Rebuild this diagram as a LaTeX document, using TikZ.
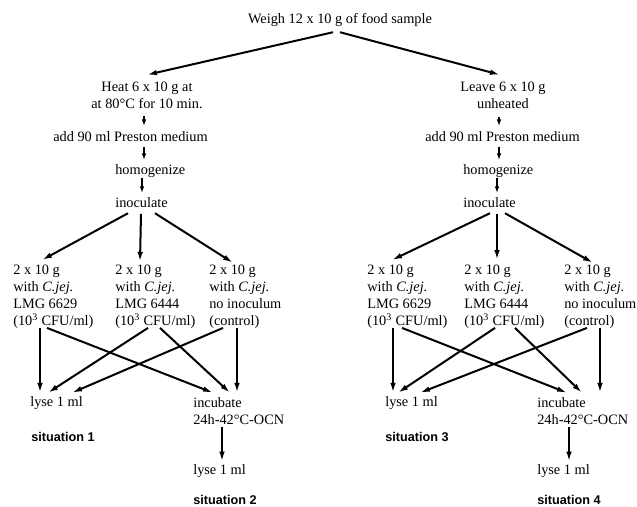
\documentclass[tikz,border=0pt]{standalone}
\usepackage{fontspec}
\setmainfont{Liberation Serif}
\newfontfamily\sitfont{Liberation Sans}
\usetikzlibrary{arrows.meta,calc}
\begin{document}
\begin{tikzpicture}[x=0.75pt,y=-0.75pt,
    txt/.style={inner sep=0pt,anchor=west,font=\fontsize{10.75}{12.75}\selectfont,text height=8pt,text depth=2pt},
    ctr/.style={inner sep=0pt,anchor=north,align=center,font=\fontsize{10.75}{12.75}\selectfont},
    blk/.style={inner sep=0pt,anchor=north west,align=left,font=\fontsize{10.75}{12.75}\selectfont},
    sit/.style={inner sep=0pt,anchor=west,font=\sitfont\bfseries\fontsize{9.5}{11}\selectfont},
    arr/.style={-{Latex[length=7.5pt,width=4.2pt]},line width=1.5pt},
    sarr/.style={-{Latex[length=5pt,width=3.5pt]},line width=1pt}]
\useasboundingbox (0,0) rectangle (637,507);
\node[txt,anchor=center] (title) at (340,19) {Weigh 12 x 10 g of food sample};
\node[ctr] (heat) at (147,81.8) {Heat 6 x 10 g at\\ at 80°C for 10 min.};
\node[ctr] (leave) at (503,81.8) {Leave 6 x 10 g\\unheated};
\node[txt] (addL) at (53,137) {add 90 ml Preston medium};
\node[txt] (homL) at (115,170) {homogenize};
\node[txt] (inoL) at (115,203) {inoculate};
\node[txt] (addR) at (425,137) {add 90 ml Preston medium};
\node[txt] (homR) at (463,170) {homogenize};
\node[txt] (inoR) at (463,203) {inoculate};
\node[blk] (blkL1) at (13,264.8) {2 x 10 g\\with \textit{C.jej.}\\LMG 6629\\(10\textsuperscript{3} CFU/ml)};
\node[blk] (blkL2) at (115,264.8) {2 x 10 g\\with \textit{C.jej.}\\LMG 6444\\(10\textsuperscript{3} CFU/ml)};
\node[blk] (blkL3) at (209,264.8) {2 x 10 g\\with \textit{C.jej.}\\no inoculum\\(control)};
\node[blk] (blkR1) at (367,264.8) {2 x 10 g\\with \textit{C.jej.}\\LMG 6629\\(10\textsuperscript{3} CFU/ml)};
\node[blk] (blkR2) at (464,264.8) {2 x 10 g\\with \textit{C.jej.}\\LMG 6444\\(10\textsuperscript{3} CFU/ml)};
\node[blk] (blkR3) at (564,264.8) {2 x 10 g\\with \textit{C.jej.}\\no inoculum\\(control)};
\node[txt] (lyseL) at (30,402) {lyse 1 ml};
\node[blk] (incL) at (193,396.8) {incubate\\24h-42°C-OCN};
\node[txt] (lyse2L) at (193,470) {lyse 1 ml};
\node[sit] (sit1) at (31,437) {situation 1};
\node[sit] (sit2) at (193,500) {situation 2};
\node[txt] (lyseR) at (385,402) {lyse 1 ml};
\node[blk] (incR) at (537,396.8) {incubate\\24h-42°C-OCN};
\node[txt] (lyse2R) at (537,470) {lyse 1 ml};
\node[sit] (sit3) at (385,437) {situation 3};
\node[sit] (sit4) at (537,500) {situation 4};
\draw[arr] ($(title.south)+(-7,6.3)$) -- ($(heat.north)+(0,-7)$);
\draw[arr] ($(title.south)+(0,6.3)$) -- ($(leave.north)+(-3,-7)$);
\draw[sarr] ($(heat.south)+(-3,6.5)$) -- ($(addL.north west)+(91,-4)$);
\draw[sarr] ($(addL.south west)+(91,3)$) -- ($(homL.north west)+(29,-3)$);
\draw[sarr] ($(homL.south west)+(27,1.5)$) -- ($(inoL.north west)+(27,-3)$);
\draw[sarr] ($(leave.south)+(-4,7.5)$) -- ($(addR.north west)+(74,-4)$);
\draw[sarr] ($(addR.south west)+(74,3)$) -- ($(homR.north west)+(36,-3)$);
\draw[sarr] ($(homR.south west)+(34,1.5)$) -- ($(inoR.north west)+(34,-3)$);
\draw[arr] ($(inoL.south west)+(13,3.3)$) -- ($(blkL1.north west)+(29,-4.8)$);
\draw[arr] ($(inoL.south west)+(26,4)$) -- ($(blkL2.north west)+(25,-3)$);
\draw[arr] ($(inoL.south west)+(40,3.3)$) -- ($(blkL3.north west)+(24,-2)$);
\draw[arr] ($(inoR.south west)+(27,3.3)$) -- ($(blkR1.north west)+(25,-4.8)$);
\draw[arr] ($(inoR.south west)+(34,4)$) -- ($(blkR2.north west)+(33,-4.8)$);
\draw[arr] ($(inoR.south west)+(42,3.3)$) -- ($(blkR3.north west)+(29,-2)$);
\draw[arr] ($(blkL1.south west)+(27,-1)$) -- ($(lyseL.north west)+(10,-2.3)$);
\draw[arr] ($(blkL1.south west)+(34,-1)$) -- ($(incL.north west)+(20,-4)$);
\draw[arr] ($(blkL2.south west)+(33,-1)$) -- ($(lyseL.north west)+(18,-2.3)$);
\draw[arr] ($(blkL2.south west)+(45,-1)$) -- ($(incL.north west)+(37,-4)$);
\draw[arr] ($(blkL3.south west)+(14,-1)$) -- ($(lyseL.north west)+(42,-2.3)$);
\draw[arr] ($(blkL3.south west)+(28,-1)$) -- ($(incL.north west)+(44,-4)$);
\draw[arr] ($(blkR1.south west)+(26,-1)$) -- ($(lyseR.north west)+(8,-2.3)$);
\draw[arr] ($(blkR1.south west)+(35,-1)$) -- ($(incR.north west)+(30,-4)$);
\draw[arr] ($(blkR2.south west)+(31,-1)$) -- ($(lyseR.north west)+(13,-2.3)$);
\draw[arr] ($(blkR2.south west)+(51,-1)$) -- ($(incR.north west)+(45,-4)$);
\draw[arr] ($(blkR3.south west)+(23,-1)$) -- ($(lyseR.north west)+(35,-2.3)$);
\draw[arr] ($(blkR3.south west)+(36,-1)$) -- ($(incR.north west)+(63,-4)$);
\draw[arr] ($(incL.south west)+(29,2.5)$) -- ($(lyse2L.north west)+(29,-1.5)$);
\draw[arr] ($(incR.south west)+(32,2.5)$) -- ($(lyse2R.north west)+(32,-1.5)$);
\end{tikzpicture}
\end{document}
